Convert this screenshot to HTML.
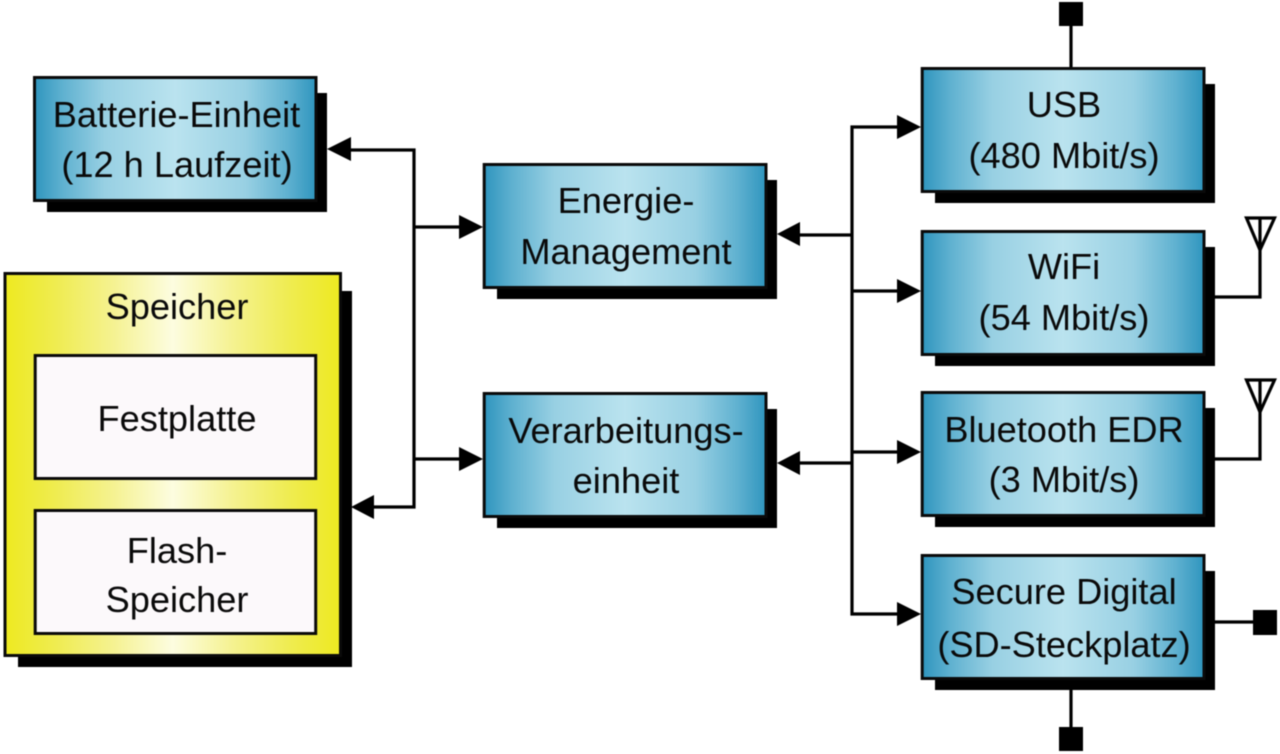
<!DOCTYPE html>
<html>
<head>
<meta charset="utf-8">
<style>
html,body{margin:0;padding:0;background:#fff;width:1280px;height:754px;overflow:hidden}
svg{display:block;filter:blur(.4px)}
text{font-family:"Liberation Sans",sans-serif;font-size:36.2px;fill:#0a0a0a;text-anchor:middle}
</style>
</head>
<body>
<svg width="1280" height="754" viewBox="0 0 1280 754" xmlns="http://www.w3.org/2000/svg">
<defs>
<linearGradient id="b" x1="0" x2="1" y1="0" y2="0">
<stop offset="0" stop-color="#2f95be"/>
<stop offset=".1" stop-color="#5fb1d0"/>
<stop offset=".25" stop-color="#98d0e3"/>
<stop offset=".5" stop-color="#bae3ef"/>
<stop offset=".75" stop-color="#98d0e3"/>
<stop offset=".9" stop-color="#5fb1d0"/>
<stop offset="1" stop-color="#2f95be"/>
</linearGradient>
<linearGradient id="y" x1="0" x2="1" y1="0" y2="0">
<stop offset="0" stop-color="#eeea20"/>
<stop offset=".15" stop-color="#efec50"/>
<stop offset=".32" stop-color="#f5f290"/>
<stop offset=".5" stop-color="#fdfde0"/>
<stop offset=".68" stop-color="#f5f290"/>
<stop offset=".85" stop-color="#efec50"/>
<stop offset="1" stop-color="#eeea20"/>
</linearGradient>
</defs>

<!-- connectors -->
<g fill="none" stroke="#000" stroke-width="3.2">
<path d="M345 150H414V507H370"/>
<path d="M414 227H462"/>
<path d="M414 459H462"/>
<path d="M795 235H852"/>
<path d="M795 463H852"/>
<path d="M898 127H852V614H898"/>
<path d="M852 291H898"/>
<path d="M852 452H898"/>
<path d="M1071 20V67"/>
<path d="M1071 680V740"/>
<path d="M1205 622H1254"/>
<path d="M1215 297H1260V218"/>
<path d="M1215 459H1260V380"/>
<path d="M1246.5 218H1274.5L1260 250Z"/>
<path d="M1246.5 380H1274.5L1260 412Z"/>
</g>

<!-- arrowheads -->
<g fill="#000">
<path d="M327 149L351 137V161Z"/>
<path d="M351 507L374 495V519Z"/>
<path d="M483 227L459 215V239Z"/>
<path d="M483 459L459 447V471Z"/>
<path d="M777 234L800 222V246Z"/>
<path d="M777 463L800 451V475Z"/>
<path d="M921 127L897 115V139Z"/>
<path d="M921 291L897 279V303Z"/>
<path d="M921 452L897 440V464Z"/>
<path d="M921 614L897 602V626Z"/>
<rect x="1059" y="2" width="24" height="24"/>
<rect x="1059" y="727" width="24" height="24"/>
<rect x="1253" y="610" width="24" height="25"/>
</g>

<!-- shadows -->
<g fill="#000">
<rect x="47" y="93" width="280" height="119"/>
<rect x="18" y="291" width="334" height="376"/>
<rect x="497" y="180" width="280" height="119"/>
<rect x="497" y="409" width="280" height="119"/>
<rect x="935" y="84" width="280" height="119"/>
<rect x="935" y="247" width="280" height="119"/>
<rect x="935" y="408" width="280" height="119"/>
<rect x="935" y="571" width="280" height="119"/>
</g>

<!-- boxes -->
<g stroke="#0a0a0a" stroke-width="3" fill="url(#b)">
<rect x="34.5" y="77.5" width="281.5" height="123"/>
<rect x="484.2" y="164.5" width="281.8" height="123"/>
<rect x="484.2" y="393.5" width="281.8" height="123"/>
<rect x="922.2" y="68.5" width="281.8" height="123"/>
<rect x="922.2" y="231.5" width="281.8" height="123"/>
<rect x="922.2" y="392.5" width="281.8" height="123"/>
<rect x="922.2" y="555.5" width="281.8" height="123"/>
<rect x="5" y="273.5" width="335.5" height="382" fill="url(#y)"/>
<rect x="35.2" y="355.5" width="280.5" height="123" fill="#fcf9fb"/>
<rect x="35.2" y="510.5" width="280.5" height="123" fill="#fcf9fb"/>
</g>

<!-- labels -->
<text x="176.5" y="127">Batterie-Einheit</text>
<text x="177" y="177">(12 h Laufzeit)</text>
<text x="177" y="319">Speicher</text>
<text x="177" y="431">Festplatte</text>
<text x="177" y="563">Flash-</text>
<text x="177" y="612">Speicher</text>
<text x="626" y="213">Energie-</text>
<text x="626" y="264">Management</text>
<text x="626" y="443">Verarbeitungs-</text>
<text x="626" y="493">einheit</text>
<text x="1064" y="117">USB</text>
<text x="1064" y="168">(480 Mbit/s)</text>
<text x="1064" y="279">WiFi</text>
<text x="1064" y="330">(54 Mbit/s)</text>
<text x="1064" y="442">Bluetooth EDR</text>
<text x="1064" y="492">(3 Mbit/s)</text>
<text x="1064" y="604">Secure Digital</text>
<text x="1064" y="657">(SD-Steckplatz)</text>
</svg>
</body>
</html>
